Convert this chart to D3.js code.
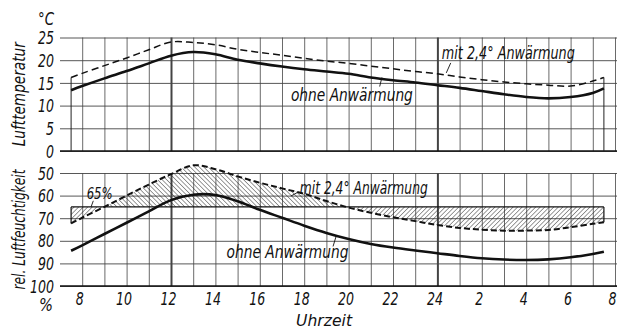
<!DOCTYPE html>
<html>
<head>
<meta charset="utf-8">
<script src="https://cdn.jsdelivr.net/npm/d3@7"></script>
<style>
  body { margin: 0; background: #fff; }
  text { font-family: "DejaVu Sans", sans-serif; font-style: italic; font-weight: 300; fill: #111; }
</style>
</head>
<body>
<svg id="chart" width="627" height="331"></svg>
<script>
// Uhrzeit in Stunden ab Mitternacht des ersten Tages (25 = 1 Uhr, 32 = 8 Uhr am naechsten Tag)
var hours = [7.5, 8, 9, 10, 11, 12, 13, 14, 15, 16, 17, 18, 19, 20, 21, 22, 23, 24, 25, 26, 27, 28, 29, 30, 31, 31.5];

// Lufttemperatur in °C
var tempOhne = [13.4, 14.3, 16.0, 17.6, 19.3, 21.0, 21.8, 21.3, 20.1, 19.3, 18.6, 18.0, 17.5, 17.0, 16.2, 15.6, 15.1, 14.5, 13.9, 13.2, 12.5, 11.9, 11.6, 11.9, 12.8, 13.8];
var tempMit  = [16.2, 17.1, 18.8, 20.5, 22.3, 24.0, 23.9, 23.4, 22.4, 21.7, 21.1, 20.4, 19.8, 19.3, 18.7, 18.1, 17.5, 17.0, 16.3, 15.7, 15.2, 14.8, 14.5, 14.3, 15.4, 16.2];

// relative Luftfeuchtigkeit in %
var rhOhne = [84.4, 82.0, 77.0, 72.0, 67.0, 62.0, 59.6, 59.7, 62.5, 66.3, 69.8, 73.3, 76.5, 79.2, 81.4, 83.0, 84.3, 85.5, 86.7, 87.7, 88.3, 88.5, 88.2, 87.3, 85.8, 84.8];
var rhMit  = [72.3, 69.8, 65.0, 60.0, 55.1, 50.5, 46.6, 48.3, 51.5, 54.3, 56.8, 59.2, 62.4, 65.3, 67.6, 69.6, 71.3, 73.0, 74.3, 75.1, 75.5, 75.5, 75.2, 74.0, 72.5, 71.8];
var rhGrenze = 65;

var tempTicks = [0, 5, 10, 15, 20, 25];
var rhTicks = [50, 60, 70, 80, 90, 100];
var gridHours = d3.range(8, 33);
var labelHours = d3.range(8, 33, 2);

var svg = d3.select("#chart");

var x = d3.scaleLinear().domain([7, 32]).range([60, 615]);
var yT = d3.scaleLinear().domain([0, 25]).range([151, 37.5]);
var yH = d3.scaleLinear().domain([50, 100]).range([173, 286]);
var gridRight = 617;

var defs = svg.append("defs");
function hatch(id, angle) {
    defs.append("pattern")
        .attr("id", id)
        .attr("patternUnits", "userSpaceOnUse")
        .attr("width", 3.2).attr("height", 3.2)
        .attr("patternTransform", "rotate(" + angle + ")")
      .append("line")
        .attr("x1", 0).attr("y1", 0).attr("x2", 0).attr("y2", 3.2)
        .attr("stroke", "#222").attr("stroke-width", 0.9);
}
hatch("hatchUp", -45);
hatch("hatchDown", 45);

defs.append("clipPath").attr("id", "clipUp")
    .append("rect").attr("x", 0).attr("y", 0).attr("width", 627).attr("height", yH(rhGrenze));
defs.append("clipPath").attr("id", "clipDown")
    .append("rect").attr("x", 0).attr("y", yH(rhGrenze)).attr("width", 627).attr("height", 331 - yH(rhGrenze));

// schmale Ziffern wie in der Normschrift
function narrow(sel) {
    sel.attr("textLength", function() { return this.textContent.length * 8; })
       .attr("lengthAdjust", "spacingAndGlyphs");
}

function grid(yScale, ticks) {
    var top = d3.min(yScale.range());
    var bottom = d3.max(yScale.range());
    var g = svg.append("g").attr("class", "grid");

    g.append("g")
        .attr("transform", "translate(" + x.range()[0] + ",0)")
        .call(d3.axisLeft(yScale).tickValues(ticks).tickSize(-(gridRight - x.range()[0])).tickFormat(""))
        .call(function(a) { a.select(".domain").remove(); })
        .selectAll("line").attr("stroke", "#444").attr("stroke-width", 0.9);

    g.append("g")
        .attr("transform", "translate(0," + bottom + ")")
        .call(d3.axisBottom(x).tickValues(gridHours).tickSize(-(bottom - top)).tickFormat(""))
        .call(function(a) { a.select(".domain").remove(); })
        .selectAll("line")
        .attr("stroke", "#444")
        .attr("stroke-width", function(d) { return (d === 12 || d === 24) ? 2 : 0.8; });

    // Grundlinie
    g.append("line")
        .attr("x1", x.range()[0]).attr("x2", gridRight)
        .attr("y1", bottom).attr("y2", bottom)
        .attr("stroke", "#111").attr("stroke-width", 1.6);

    svg.append("g")
        .attr("transform", "translate(" + 54 + ",0)")
        .call(d3.axisLeft(yScale).tickValues(ticks).tickSize(0).tickPadding(0))
        .call(function(a) { a.select(".domain").remove(); })
        .selectAll("text")
        .style("font-size", "17px")
        .attr("text-anchor", "end")
        .attr("dy", "0.36em")
        .call(narrow);
}

grid(yT, tempTicks);
grid(yH, rhTicks);

function series(vals) {
    return hours.map(function(h, i) { return { h: h, v: vals[i] }; });
}

var curve = d3.curveCatmullRom.alpha(0.5);

// ---------- Lufttemperatur ----------
var lineT = d3.line().x(function(d) { return x(d.h); }).y(function(d) { return yT(d.v); }).curve(curve);

// senkrechte Begrenzungen der Messreihe
[0, hours.length - 1].forEach(function(i) {
    svg.append("line")
        .attr("x1", x(hours[i])).attr("x2", x(hours[i]))
        .attr("y1", yT(tempMit[i])).attr("y2", yT(0))
        .attr("stroke", "#222").attr("stroke-width", 1);
});

svg.append("path")
    .datum(series(tempMit))
    .attr("d", lineT)
    .attr("fill", "none").attr("stroke", "#111")
    .attr("stroke-width", 1.5).attr("stroke-dasharray", "7,4");

svg.append("path")
    .datum(series(tempOhne))
    .attr("d", lineT)
    .attr("fill", "none").attr("stroke", "#111")
    .attr("stroke-width", 2.6);

// ---------- Luftfeuchtigkeit ----------
var areaH = d3.area()
    .x(function(d) { return x(d.h); })
    .y0(yH(rhGrenze))
    .y1(function(d) { return yH(d.v); })
    .curve(curve);

svg.append("path")
    .datum(series(rhMit))
    .attr("d", areaH)
    .attr("fill", "url(#hatchUp)")
    .attr("clip-path", "url(#clipUp)");

svg.append("path")
    .datum(series(rhMit))
    .attr("d", areaH)
    .attr("fill", "url(#hatchDown)")
    .attr("clip-path", "url(#clipDown)");

svg.append("line")
    .attr("x1", x(hours[0])).attr("x2", x(hours[hours.length - 1]))
    .attr("y1", yH(rhGrenze)).attr("y2", yH(rhGrenze))
    .attr("stroke", "#111").attr("stroke-width", 1.3);

[0, hours.length - 1].forEach(function(i) {
    svg.append("line")
        .attr("x1", x(hours[i])).attr("x2", x(hours[i]))
        .attr("y1", yH(rhGrenze)).attr("y2", yH(rhMit[i]))
        .attr("stroke", "#111").attr("stroke-width", 1.2);
});

var lineH = d3.line().x(function(d) { return x(d.h); }).y(function(d) { return yH(d.v); }).curve(curve);

svg.append("path")
    .datum(series(rhMit))
    .attr("d", lineH)
    .attr("fill", "none").attr("stroke", "#111")
    .attr("stroke-width", 2).attr("stroke-dasharray", "6,3");

svg.append("path")
    .datum(series(rhOhne))
    .attr("d", lineH)
    .attr("fill", "none").attr("stroke", "#111")
    .attr("stroke-width", 2.6);

// ---------- Zeitachse ----------
svg.append("g")
    .attr("transform", "translate(0," + yH(100) + ")")
    .call(d3.axisBottom(x).tickValues(labelHours).tickSize(0).tickPadding(7)
        .tickFormat(function(h) { return h > 24 ? h - 24 : h; }))
    .call(function(a) { a.select(".domain").remove(); })
    .selectAll("text")
    .style("font-size", "17px")
    .attr("dx", "-3px")
    .call(narrow);

// ---------- Beschriftungen ----------
function label(txt, px, py, size, len, anchor, rot) {
    var t = svg.append("text")
        .attr("x", px).attr("y", py)
        .style("font-size", size + "px")
        .attr("text-anchor", anchor || "start")
        .text(txt);
    if (len) t.attr("textLength", len).attr("lengthAdjust", "spacingAndGlyphs");
    if (rot) t.attr("transform", "rotate(" + rot + "," + px + "," + py + ")");
    return t;
}

function leader(x1, y1, x2, y2) {
    svg.append("line")
        .attr("x1", x1).attr("y1", y1).attr("x2", x2).attr("y2", y2)
        .attr("stroke", "#111").attr("stroke-width", 0.9);
}

label("°C", 38, 25, 17, 16);
label("Lufttemperatur", 25, (yT(0) + yT(25)) / 2, 17, 104, "middle", -90);
label("rel. Luftfeuchtigkeit", 25, (yH(50) + yH(100)) / 2, 17, 120, "middle", -90);
label("%", 39, 311, 17, 14);
label("Uhrzeit", 324, 326, 16, 56, "middle");

label("ohne Anwärmung", x(17.4), yT(11), 17, 122);
leader(x(21.4), yT(14.2), x(21.5), yT(16.2));
label("mit 2,4° Anwärmung", x(24.2), yT(20.3), 17, 133);
leader(x(24.6), yT(19.4), x(24.4), yT(17.2));

label("mit 2,4° Anwärmung", x(17.8), yH(59.2), 17, 128);
leader(x(17.7), yH(58.6), x(17.4), yH(60.2));
label("ohne Anwärmung", x(14.5), yH(87.5), 17, 122);
leader(x(19.3), yH(82.5), x(19.45), yH(77.6));
label("65%", x(8.2), yH(61.3), 16, 26);
leader(x(8.5), yH(62.3), x(8.4), yH(rhGrenze));
</script>
</body>
</html>
